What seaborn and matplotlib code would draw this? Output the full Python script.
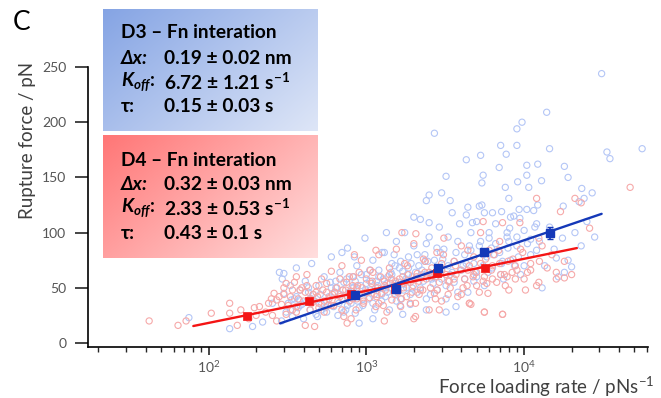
import numpy as np
import pandas as pd
import matplotlib
matplotlib.use("Agg")
import matplotlib.pyplot as plt
import seaborn as sns

# ---- D3 (blue) single rupture events: loading rate (pN/s), rupture force (pN)
blue_rate = [
    75, 136, 190, 220, 254, 281, 293, 300, 335, 376,
    290, 300, 310, 320, 330, 340, 350, 360, 370, 380, 400, 410, 420, 440, 450, 460, 480, 500, 520, 540, 560, 580, 600,
    330, 360, 390, 430, 470, 510, 550, 590,
    620, 640, 660, 680, 700, 720, 740, 760, 780, 800, 820, 850, 870, 900, 920, 950, 980, 1000, 1030, 1060, 1100, 1130, 1160, 1200,
    630, 670, 710, 750, 790, 830, 880, 930, 990, 1050, 1120, 1180, 700, 840,
    1250, 1300, 1330, 1370, 1400, 1450, 1500, 1550, 1600, 1650, 1700, 1750, 1800, 1850, 1900, 1950, 2000, 2100, 2150, 2200, 2300, 2350, 2400, 2500,
    1280, 1360, 1430, 1520, 1620, 1720, 1820, 1920, 2050, 2250, 2450, 1260, 1500, 1340,
    2600, 2700, 2800, 2900, 3000, 3100, 3200, 3300, 3500, 3600, 3800, 4000, 4200, 4400, 4600, 4800, 5000, 5200, 5400, 5600, 5800, 6000,
    2650, 2850, 3050, 3400, 3700, 4100, 4500, 4900, 5500, 3200, 3700,
    6300, 6600, 7000, 7400, 7800, 8200, 8600, 9000, 9500, 10000, 11000, 11500, 12500, 13500, 14500, 15500, 16500, 17500, 19000, 21000, 23000, 25000, 28000,
    6200, 7200, 8000, 9200, 10500, 12000,
    450, 520, 600, 680, 760, 850, 950, 1050, 1150, 1250, 1350, 1450, 1550, 1650, 1750, 1850, 1950, 2100, 2250, 2400,
    2600, 2800, 3000, 3300, 3600, 3900, 4200, 4600, 5000, 5500, 6000, 6600, 7300, 8100, 9000, 10000, 11000, 12000,
    380, 430, 490, 560, 640, 720, 810, 900, 1000, 1100, 1200, 1320, 1420, 1520, 1640, 1780, 1900, 2050, 2200, 2350,
    2550, 2750, 2950, 3200, 3500, 3800, 4300, 4800, 5300, 5900, 6500, 7100, 7900, 8700, 1100, 1700, 2400, 900,
    31000, 13900, 9700, 9000, 2700, 7100, 7700, 9000, 14500, 33500, 35000, 56000, 4300, 5300, 6950, 5500, 5400, 10400, 12200, 18000,
    3200, 10400, 12900, 19000, 9100, 10700, 7600, 23200, 2500, 2400, 3000, 3400, 8000, 12200, 27000, 24000, 22300, 17700, 4400, 5200,
    5600, 6300, 9300, 10400, 7200, 2000, 2500, 4300, 4700, 8200, 9400, 11700, 7800, 16000, 18000, 20000, 13000,
]
blue_force = [
    23, 13, 15, 19, 36, 64, 58, 63, 39, 39,
    20, 45, 28, 36, 52, 24, 40, 68, 32, 48, 22, 56, 38, 30, 72, 44, 26, 52, 35, 60, 28, 42, 78,
    30, 42, 35, 50, 38, 44, 32, 55,
    33, 50, 25, 64, 40, 55, 30, 86, 46, 36, 60, 27, 70, 44, 52, 34, 95, 62, 40, 48, 75, 30, 56, 66,
    46, 36, 48, 58, 42, 50, 38, 62, 48, 56, 44, 52, 82, 78,
    38, 82, 50, 60, 30, 72, 45, 92, 55, 40, 65, 100, 50, 78, 35, 60, 88, 46, 70, 112, 56, 80, 40, 96,
    58, 46, 64, 54, 68, 48, 62, 72, 58, 66, 74, 82, 80, 100,
    62, 75, 48, 105, 58, 85, 40, 70, 118, 55, 92, 66, 80, 46, 100, 72, 60, 88, 125, 52, 78, 95,
    54, 68, 76, 62, 82, 70, 88, 64, 80, 28, 33,
    68, 108, 82, 58, 96, 75, 115, 88, 62, 102, 80, 120, 92, 70, 105, 85, 60, 95, 75, 100, 88, 110, 96,
    86, 72, 92, 78, 90, 84,
    40, 30, 50, 44, 34, 56, 40, 66, 50, 44, 54, 62, 38, 74, 56, 68, 50, 80, 62, 90,
    58, 86, 66, 96, 74, 108, 58, 84, 110, 70, 100, 90, 74, 104, 96, 70, 94, 108,
    34, 46, 24, 38, 56, 28, 50, 32, 54, 36, 60, 42, 50, 70, 34, 58, 44, 64, 50, 74,
    44, 60, 82, 52, 64, 46, 72, 56, 92, 64, 80, 62, 86, 70, 22, 26, 30, 18,
    244, 209, 200, 194, 190, 179, 171, 179, 176, 173, 167, 176, 166, 170, 159, 152, 145, 161, 162, 160,
    151, 152, 147, 150, 146, 141, 141, 140, 134, 129, 136, 129, 131, 125, 136, 131, 128, 124, 123, 124,
    118, 118, 121, 121, 119, 114, 109, 116, 109, 114, 113, 105, 100, 77, 64, 69, 50,
]

# ---- D4 (red) single rupture events
red_rate = [
    42, 64, 72, 104, 136, 136, 152, 195, 200, 254, 270, 310, 360, 340,
    160, 180, 210, 230, 250, 260, 270, 290, 300,
    310, 330, 350, 360, 380, 400, 420, 440, 460, 480, 500, 520, 540, 560, 580, 600,
    320, 370, 410, 450, 490, 530, 570, 610, 470, 410,
    620, 650, 680, 700, 720, 750, 780, 800, 830, 860, 880, 900, 930, 960, 1000, 1050, 1100, 1150, 1180, 1200,
    660, 710, 760, 820, 870, 940, 1020, 1080, 1160, 755,
    1250, 1300, 1350, 1400, 1450, 1500, 1550, 1600, 1650, 1700, 1750, 1800, 1900, 2000, 2050, 2100, 2200, 2300, 2400, 2500,
    1230, 1320, 1420, 1520, 1620, 1720, 1850, 1950, 2150, 2350, 2050,
    2600, 2700, 2800, 2900, 3000, 3100, 3200, 3400, 3600, 3800, 4000, 4200, 4400, 4600, 4800, 5000, 5300, 5600, 5900, 6000,
    2550, 2750, 3000, 3300, 3700, 4100, 4500, 5000, 5500, 4500, 5600,
    6300, 6700, 7000, 7500, 8000, 8500, 9000, 9500, 10000, 11000, 12000, 13000, 14000, 15000, 16000, 18000, 20000,
    6200, 7000, 7800, 8800, 10500, 12500, 7300,
    240, 280, 340, 390, 440, 500, 560, 630, 700, 780, 870, 960, 1060, 1170, 1280, 1400, 1530, 1670, 1820, 1980,
    2160, 2360, 2580, 2820, 3080, 3360, 3670, 4000, 4400, 4800, 5300, 5800, 6400, 7100, 7900, 8800, 9800, 11000,
    300, 360, 420, 480, 540, 600, 680, 740, 820, 900, 990, 1090, 1200, 1310, 1440, 1580, 1730, 1900, 2080, 2280,
    2500, 2740, 3000, 3300, 3600, 3950, 4350, 4750, 5200, 5700, 6300, 6900, 7600, 8400, 1300, 2000, 2900, 800,
    47000, 12000, 21000, 23000, 17000, 26000, 5500, 9400, 7300, 12400, 16000, 18000, 12400, 10200, 5600, 7300, 4500,
    840, 1680, 2060, 1150,
]
red_force = [
    20, 16, 20, 27, 36, 27, 16, 32, 25, 25, 39, 54, 60, 48,
    30, 22, 33, 28, 40, 45, 20, 35, 50,
    26, 42, 55, 33, 48, 38, 62, 30, 44, 52, 36, 58, 28, 46, 40, 65,
    34, 40, 46, 36, 42, 48, 34, 44, 15, 16,
    34, 50, 42, 70, 24, 55, 38, 47, 60, 30, 52, 44, 75, 36, 58, 41, 64, 33, 50, 80,
    38, 48, 42, 52, 40, 50, 46, 54, 42, 18,
    45, 56, 28, 68, 39, 52, 85, 47, 33, 60, 72, 42, 55, 90, 36, 63, 48, 76, 58, 30,
    60, 48, 54, 44, 58, 50, 62, 46, 56, 64, 24,
    68, 45, 82, 55, 38, 95, 62, 50, 74, 42, 88, 58, 66, 35, 78, 52, 100, 60, 45, 84,
    50, 60, 66, 56, 62, 50, 70, 64, 56, 36, 28,
    70, 55, 92, 62, 48, 76, 66, 85, 58, 72, 52, 88, 68, 80, 58, 74, 62,
    66, 72, 60, 70, 64, 74, 26,
    36, 42, 30, 50, 40, 32, 54, 46, 30, 60, 50, 38, 66, 44, 34, 62, 56, 40, 70, 52,
    44, 74, 60, 48, 80, 56, 70, 44, 84, 62, 72, 54, 80, 62, 74, 58, 82, 66,
    44, 28, 52, 46, 38, 34, 58, 48, 40, 64, 46, 56, 36, 52, 58, 46, 54, 36, 60, 48,
    64, 40, 72, 44, 58, 66, 52, 60, 46, 76, 58, 84, 52, 64, 20, 22, 30, 22,
    141, 131, 131, 127, 119, 104, 110, 109, 109, 95, 64, 59, 55, 48, 28, 26, 36,
    80, 100, 99, 84,
]

# ---- binned means
blue_mean_rate = [851, 1550, 2860, 5580, 14550]
blue_mean_force = [43.5, 48.5, 67.7, 82.0, 99.4]
blue_mean_err = [1.5, 1.5, 2.0, 2.5, 5.4]
red_mean_rate = [175, 430, 800, 1520, 2820, 5680]
red_mean_force = [24.7, 38.3, 44.0, 48.6, 63.0, 67.7]

# ---- Bell-Evans fits (end points of the drawn lines)
blue_fit_rate = [284, 31000]
blue_fit_force = [17.8, 117.0]
red_fit_rate = [80, 21600]
red_fit_force = [15.4, 86.0]

BLUE_PT = "#b4c6f6"
RED_PT = "#f6a9a9"
BLUE_LN = "#1438b8"
RED_LN = "#f41414"

sns.set_style("ticks")
plt.rcParams["font.family"] = ["Lato", "DejaVu Sans"]
plt.rcParams["mathtext.fontset"] = "custom"
plt.rcParams["mathtext.rm"] = "Lato"
plt.rcParams["mathtext.it"] = "Lato:italic:bold"
plt.rcParams["mathtext.bf"] = "Lato:bold"

fig = plt.figure(figsize=(6.61, 3.98), dpi=100)
ax = fig.add_axes([88 / 661, 51 / 398, 560 / 661, 280 / 398])

blue_df = pd.DataFrame({"rate": blue_rate, "force": blue_force})
red_df = pd.DataFrame({"rate": red_rate, "force": red_force})

sns.scatterplot(data=blue_df, x="rate", y="force", ax=ax, marker="o", s=20,
                facecolors="none", edgecolor=BLUE_PT, linewidth=0.8, zorder=2)
sns.scatterplot(data=red_df, x="rate", y="force", ax=ax, marker="o", s=20,
                facecolors="none", edgecolor=RED_PT, linewidth=0.8, zorder=2)

sns.lineplot(x=red_fit_rate, y=red_fit_force, ax=ax, color=RED_LN, lw=1.7, zorder=4)
sns.lineplot(x=blue_fit_rate, y=blue_fit_force, ax=ax, color=BLUE_LN, lw=1.7, zorder=4)

ax.errorbar(blue_mean_rate, blue_mean_force, yerr=blue_mean_err, fmt="s", ms=6,
            color=BLUE_LN, ecolor=BLUE_LN, elinewidth=1.2, capsize=2.5, zorder=5)
sns.scatterplot(x=red_mean_rate, y=red_mean_force, ax=ax, marker="s", s=40,
                color=RED_LN, edgecolor=RED_LN, zorder=5)

ax.set_xscale("log")
ax.set_xlim(17.2, 61000)
ax.set_ylim(-3.6, 250)
ax.set_yticks([0, 50, 100, 150, 200, 250])

for side in ["top", "right"]:
    ax.spines[side].set_visible(False)
for side in ["left", "bottom"]:
    ax.spines[side].set_linewidth(1.2)
    ax.spines[side].set_color("black")

ax.tick_params(axis="y", which="major", direction="out", length=9.5, width=1.2,
               labelsize=10, labelcolor="#555555", pad=6)
ax.tick_params(axis="x", which="major", direction="out", length=5.5, width=1.2,
               labelsize=10, labelcolor="#555555", pad=3.5)
ax.tick_params(axis="x", which="minor", direction="out", length=3.5, width=1.0)

ax.set_xlabel("Force loading rate / pNs$^{-1}$", fontsize=13.5, color="#404040", ha="right")
ax.xaxis.set_label_coords(1.012, -0.098)
ax.set_ylabel("")
fig.text(28 / 661, 1 - 140 / 398, "Rupture force / pN", fontsize=13.5, color="#404040",
         rotation=90, ha="center", va="center")

fig.text(22 / 661, 1 - 22 / 398, "C", fontsize=19, ha="center", va="center", color="black")


def gradient_box(x0, y0, x1, y1, c_dark, c_light):
    # box in pixel coords (top-left origin), diagonal gradient dark -> light
    bax = fig.add_axes([x0 / 661, 1 - y1 / 398, (x1 - x0) / 661, (y1 - y0) / 398])
    u = np.linspace(0, 1, 200)[None, :]
    v = np.linspace(0, 1, 120)[:, None]
    t = (u * 0.6 + v * 0.4)[..., None]
    img = np.array(c_dark)[None, None, :] * (1 - t) + np.array(c_light)[None, None, :] * t
    bax.imshow(img / 255, aspect="auto", extent=[0, 1, 0, 1])
    bax.set_axis_off()
    return bax


gradient_box(103, 9, 318, 131, (133, 164, 228), (222, 230, 247))
gradient_box(103, 135, 318, 258, (255, 118, 118), (255, 222, 222))

box_lines = [
    (32, "D3 – Fn interation", None),
    (58, "Δx:", "0.19 ± 0.02 nm"),
    (82, "$K_{off}$:", "6.72 ± 1.21 s$^{\\mathbf{-1}}$"),
    (106, "τ:", "0.15 ± 0.03 s"),
    (160, "D4 – Fn interation", None),
    (185, "Δx:", "0.32 ± 0.03 nm"),
    (208, "$K_{off}$:", "2.33 ± 0.53 s$^{\\mathbf{-1}}$"),
    (233, "τ:", "0.43 ± 0.1 s"),
]
for py, lab, val in box_lines:
    style = "italic" if lab.startswith("Δ") else "normal"
    fig.text(121 / 661, 1 - py / 398, lab, fontsize=13.8, fontweight="bold",
             fontstyle=style, ha="left", va="center", color="black", zorder=10)
    if val is not None:
        fig.text(164 / 661, 1 - py / 398, val, fontsize=13.8, fontweight="bold",
                 ha="left", va="center", color="black", zorder=10)

fig.savefig("out.png", dpi=100)
